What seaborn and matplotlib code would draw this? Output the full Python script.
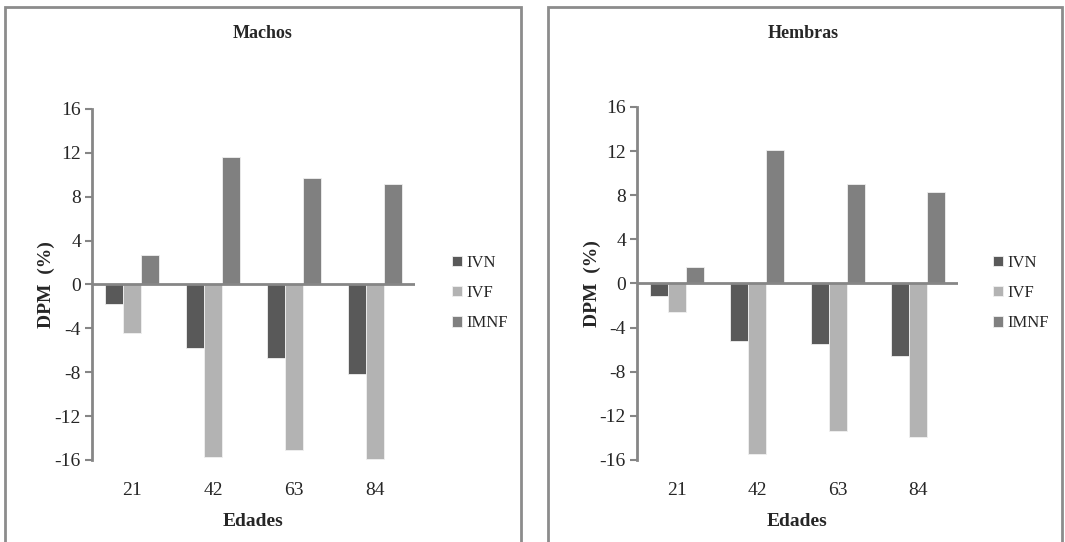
import numpy as np
import pandas as pd
import seaborn as sns
import matplotlib.pyplot as plt
from matplotlib.patches import Rectangle

# Datos (DPM %)
edades = ["21", "42", "63", "84"]
indices = ["IVN", "IVF", "IMNF"]

machos_ivn = [-1.8, -5.8, -6.7, -8.2]
machos_ivf = [-4.4, -15.7, -15.1, -15.9]
machos_imnf = [2.7, 11.6, 9.7, 9.2]

hembras_ivn = [-1.1, -5.2, -5.5, -6.6]
hembras_ivf = [-2.6, -15.5, -13.4, -13.9]
hembras_imnf = [1.5, 12.1, 9.0, 8.3]

colores = ["#595959", "#b3b3b3", "#808080"]
gris = "#868686"


def tabla(ivn, ivf, imnf):
    filas = []
    for serie, vals in zip(indices, [ivn, ivf, imnf]):
        for e, v in zip(edades, vals):
            filas.append({"Edades": e, "Indice": serie, "DPM": v})
    return pd.DataFrame(filas)


sns.set_style("white")
plt.rcParams["font.family"] = ["Liberation Serif", "DejaVu Serif"]
plt.rcParams["axes.unicode_minus"] = False

fig = plt.figure(figsize=(10.65, 5.42), dpi=100)

paneles = [
    ("Machos", tabla(machos_ivn, machos_ivf, machos_imnf),
     [92 / 1065, 0.1513, 323 / 1065, 351 / 542], 263, 445,
     (5, 516)),
    ("Hembras", tabla(hembras_ivn, hembras_ivf, hembras_imnf),
     [637 / 1065, 0.1513, 321 / 1065, 353 / 542], 803, 986,
     (548, 514)),
]

for titulo, df, pos, xt, xleg, caja in paneles:
    # marco del panel
    fig.patches.append(Rectangle((caja[0] / 1065, -0.02), caja[1] / 1065,
                                 1 - 7 / 542 + 0.02, transform=fig.transFigure,
                                 fill=False, edgecolor="#8c8c8c", lw=2))
    ax = fig.add_axes(pos)
    sns.barplot(data=df, x="Edades", y="DPM", hue="Indice", hue_order=indices,
                order=edades, palette=colores, width=0.67, ax=ax,
                edgecolor="#f0f0f0", linewidth=0.6, saturation=1)
    ax.set_ylim(-16, 16)
    ax.set_yticks(np.arange(-16, 17, 4))
    ax.axhline(0, color=gris, lw=2, zorder=3)
    for s in ["top", "right", "bottom"]:
        ax.spines[s].set_visible(False)
    ax.spines["left"].set_color(gris)
    ax.spines["left"].set_linewidth(2)
    ax.tick_params(axis="y", direction="out", length=5, width=1.5,
                   color=gris, labelsize=14, pad=3, left=True)
    ax.tick_params(axis="x", length=0, labelsize=14, pad=16)
    ax.set_xlabel("Edades", fontsize=14, fontweight="bold")
    ax.xaxis.set_label_coords(0.5, -0.175)
    ax.xaxis.label.set_va("center")
    ax.set_ylabel("DPM  (%)", fontsize=14, fontweight="bold")
    ax.yaxis.set_label_coords(-0.14, 0.5)
    ax.yaxis.label.set_va("center")
    ax.grid(False)
    fig.text(xt / 1065, 1 - 33 / 542, titulo, ha="center", va="center",
             fontsize=13, fontweight="bold")
    ax.legend(loc="center left", bbox_to_anchor=(xleg / 1065, 1 - 293 / 542),
              bbox_transform=fig.transFigure, frameon=False, fontsize=12,
              handlelength=0.6, handleheight=0.6, handletextpad=0.3,
              labelspacing=0.85, borderaxespad=0, title=None)

fig.savefig("out.png", dpi=100)
